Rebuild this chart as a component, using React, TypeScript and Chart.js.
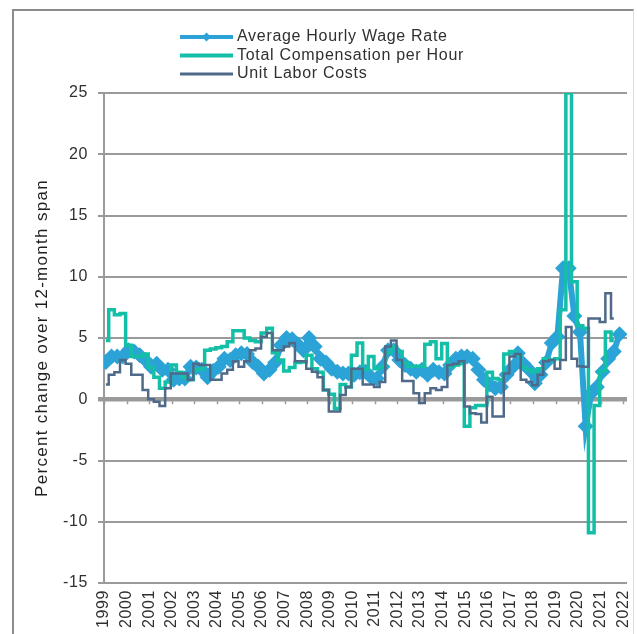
import React, { useEffect, useRef } from 'react';
import { Chart, registerables } from 'chart.js';

Chart.register(...registerables);

// ---- data (quarterly, starting 1999 Q1) ----
const YEAR_LABELS = ['1999','2000','2001','2002','2003','2004','2005','2006','2007','2008','2009','2010','2011','2012','2013','2014','2015','2016','2017','2018','2019','2020','2021','2022'];
const Y_TICKS = [-15, -10, -5, 0, 5, 10, 15, 20, 25];

const WAGE = [
  3.05, 3.5, 3.5, 3.5, 4.0, 3.9, 3.6, 3.2,
  2.65, 2.9, 2.4, 2.4, 1.6, 1.7, 1.7, 2.65,
  2.6, 2.4, 1.8, 2.3, 2.65, 3.3, 3.2, 3.6,
  3.75, 3.7, 3.05, 2.65, 2.1, 2.4, 3.0, 4.4,
  5.0, 4.9, 4.5, 4.0, 5.0, 4.3, 3.3, 3.0,
  2.5, 2.25, 2.1, 2.1, 2.0, 2.2, 2.25, 1.8,
  1.7, 2.65, 4.0, 4.0, 3.2, 2.8, 2.5, 2.25,
  2.4, 2.0, 2.4, 2.2, 2.1, 2.8, 3.3, 3.5,
  3.5, 3.3, 2.4, 1.6, 1.2, 0.9, 1.0, 2.0,
  2.6, 3.75, 2.9, 2.4, 1.3, 2.0, 3.0, 4.6,
  5.1, 10.7, 10.7, 6.8, 5.5, -2.2, 0.5, 1.0,
  2.25, 3.3, 3.9, 5.3,
];

const COMP = [
  4.8, 7.3, 6.9, 7.0, 4.4, 3.5, 3.5, 3.7,
  2.6, 1.8, 0.9, 1.4, 2.8, 2.2, 1.8, 1.6,
  2.4, 2.5, 4.0, 4.1, 4.2, 4.3, 4.7, 5.6,
  5.6, 5.0, 4.8, 4.7, 5.4, 5.8, 3.8, 3.2,
  2.3, 2.6, 3.0, 3.05, 3.6, 2.5, 2.2, 0.75,
  0.4, -0.75, 1.2, 1.0, 3.6, 4.6, 2.4, 3.5,
  2.5, 2.65, 3.8, 4.3, 3.9, 3.0, 2.7, 2.7,
  2.7, 4.5, 4.7, 3.3, 4.55, 2.65, 2.8, 2.9,
  -2.2, -0.7, -0.5, -0.5, 2.2, 1.7, 1.6, 3.7,
  3.9, 3.6, 2.6, 2.4, 2.25, 2.5, 3.3, 3.2,
  3.3, 7.3, 25, 9.6, 6.0, 5.8, -10.9, -0.5,
  2.3, 5.5, 4.8,
];

const ULC = [
  1.2, 2.0, 2.2, 3.2, 2.9, 2.0, 2.0, 0.75,
  0.0, -0.2, -0.55, 0.9, 2.1, 2.1, 2.1, 1.6,
  2.9, 2.8, 2.8, 1.6, 1.6, 2.1, 2.4, 3.1,
  2.65, 3.1, 4.0, 4.15, 5.1, 5.4, 4.0, 4.0,
  4.3, 4.6, 3.1, 3.1, 2.5, 2.25, 1.8, 0.75,
  -1.0, -1.0, 0.35, 1.0, 2.5, 2.5, 1.2, 1.2,
  1.0, 1.4, 4.3, 4.8, 3.2, 1.5, 1.5, 0.5,
  -0.3, 0.5, 0.9, 0.75, 1.0, 2.8, 2.9, 3.1,
  -0.6, -1.15, -1.2, -1.9, 0.2, -1.4, -1.4, 2.1,
  3.5, 3.7, 1.6, 1.4, 1.15, 2.0, 3.1, 3.2,
  2.5, 3.2, 5.9, 3.3, 2.7, 2.65, 6.6, 6.6,
  6.3, 8.65, 6.6,
];

const SERIES_LABELS = ['Average Hourly Wage Rate', 'Total Compensation per Hour', 'Unit Labor Costs'];
const Y_TITLE = 'Percent change over 12-month span';

// ---- style ----
const BLUE = '#2ca3d7';
const TEAL = '#14bfa8';
const SLATE = '#4f6a88';
const GRID = '#9a9a9a';
const TEXT = '#303030';
const FONT = '"Liberation Sans", Arial, sans-serif';
const CANVAS_W = 637;
const CANVAS_H = 690;
const AREA_LEFT = 104;
const AREA_TOP = 93;
const AREA_BOTTOM = 583;
const AREA_RIGHT = 627;
const LAST_MONTH = 278;

// quarterly values placed at the middle month of each quarter
const toPoints = (arr: number[]) => arr.map((v, i) => ({ x: i * 3 + 1, y: v }));

const overlayPlugin = {
  id: 'overlay',
  beforeDraw(chart: any) {
    chart.ctx.letterSpacing = '0.6px';
  },
  beforeDatasetsDraw(chart: any) {
    const { ctx, scales } = chart;
    const y0 = scales.y.getPixelForValue(0);
    ctx.save();
    ctx.strokeStyle = GRID;
    ctx.lineWidth = 1.5;
    YEAR_LABELS.forEach((_, i) => {
      const x = Math.round(scales.x.getPixelForValue(i * 12)) + 0.5;
      ctx.beginPath();
      ctx.moveTo(x, y0 + 2);
      ctx.lineTo(x, y0 + 5);
      ctx.stroke();
    });
    ctx.restore();
  },
  afterDraw(chart: any) {
    const ctx = chart.ctx;
    // y axis title
    ctx.save();
    ctx.translate(42, (AREA_TOP + AREA_BOTTOM) / 2);
    ctx.rotate(-Math.PI / 2);
    ctx.font = `17px ${FONT}`;
    ctx.letterSpacing = '1.3px';
    ctx.fillStyle = '#1e1e1e';
    ctx.textAlign = 'center';
    ctx.textBaseline = 'middle';
    ctx.fillText(Y_TITLE, 0, 0);
    ctx.restore();

    // legend (one item per row)
    const widths = [4, 4, 3];
    chart.data.datasets.forEach((ds: any, i: number) => {
      const y = 37 + i * 18.5;
      ctx.save();
      ctx.strokeStyle = ds.borderColor;
      ctx.lineWidth = widths[i];
      ctx.beginPath();
      ctx.moveTo(180, y);
      ctx.lineTo(233, y);
      ctx.stroke();
      if (i === 0) {
        ctx.fillStyle = ds.borderColor;
        ctx.beginPath();
        ctx.moveTo(206.5, y - 4.5);
        ctx.lineTo(211, y);
        ctx.lineTo(206.5, y + 4.5);
        ctx.lineTo(202, y);
        ctx.closePath();
        ctx.fill();
      }
      ctx.font = `16px ${FONT}`;
      ctx.letterSpacing = '0.7px';
      ctx.fillStyle = TEXT;
      ctx.textAlign = 'left';
      ctx.textBaseline = 'middle';
      ctx.fillText(ds.label, 237, y);
      ctx.restore();
    });
  },
};

export default function App() {
  const canvasRef = useRef<HTMLCanvasElement | null>(null);

  useEffect(() => {
    const canvas = canvasRef.current;
    if (!canvas) return;
    const chart = new Chart(canvas, {
      type: 'line',
      data: {
        datasets: [
          {
            label: SERIES_LABELS[0],
            data: toPoints(WAGE),
            borderColor: BLUE,
            backgroundColor: BLUE,
            borderWidth: 6,
            pointStyle: 'rectRot',
            pointRadius: 8,
            pointBorderWidth: 0,
            pointBackgroundColor: BLUE,
            tension: 0,
            order: 3,
          },
          {
            label: SERIES_LABELS[1],
            data: toPoints(COMP),
            borderColor: TEAL,
            backgroundColor: TEAL,
            borderWidth: 3.5,
            pointRadius: 0,
            stepped: 'middle',
            order: 2,
          },
          {
            label: SERIES_LABELS[2],
            data: toPoints(ULC),
            borderColor: SLATE,
            backgroundColor: SLATE,
            borderWidth: 2.5,
            pointRadius: 0,
            stepped: 'middle',
            order: 1,
          },
        ] as any,
      },
      options: {
        animation: false,
        responsive: false,
        maintainAspectRatio: false,
        events: [],
        layout: { padding: { top: AREA_TOP, right: CANVAS_W - AREA_RIGHT, left: 0, bottom: 0 } },
        plugins: {
          legend: { display: false },
          tooltip: { enabled: false },
          title: { display: false },
        },
        scales: {
          x: {
            type: 'linear',
            min: 0,
            max: LAST_MONTH,
            grid: { display: false, drawTicks: false },
            border: { display: false },
            afterBuildTicks: (scale: any) => {
              scale.ticks = YEAR_LABELS.map((_, i) => ({ value: i * 12 }));
            },
            afterFit: (scale: any) => {
              scale.height = CANVAS_H - AREA_BOTTOM;
              scale.paddingLeft = 0;
              scale.paddingRight = 0;
            },
            ticks: {
              autoSkip: false,
              maxRotation: 90,
              minRotation: 90,
              padding: 7,
              color: TEXT,
              font: { family: FONT, size: 16 },
              callback: (_v: any, i: number) => YEAR_LABELS[i],
            },
          },
          y: {
            type: 'linear',
            min: -15,
            max: 25,
            afterBuildTicks: (scale: any) => {
              scale.ticks = Y_TICKS.map((v) => ({ value: v }));
            },
            afterFit: (scale: any) => {
              scale.width = AREA_LEFT;
            },
            grid: {
              color: GRID,
              lineWidth: (ctx: any) => (ctx.tick && ctx.tick.value === 0 ? 4.5 : 2),
              tickLength: 6,
              drawTicks: true,
            },
            border: { display: true, color: GRID, width: 2 },
            ticks: {
              padding: 10,
              color: TEXT,
              font: { family: FONT, size: 16 },
              callback: (v: any) => String(v),
            },
          },
        },
      } as any,
      plugins: [overlayPlugin],
    });
    return () => chart.destroy();
  }, []);

  return (
    <div
      style={{
        position: 'fixed',
        left: 0,
        top: 0,
        width: CANVAS_W,
        height: 634,
        overflow: 'hidden',
        background: '#ffffff',
      }}
    >
      <div
        style={{
          position: 'absolute',
          left: 12,
          top: 9,
          width: 622,
          height: 700,
          borderLeft: '2px solid #8c8c8c',
          borderTop: '2px solid #8c8c8c',
          borderRight: '1px solid #dddddd',
          boxSizing: 'border-box',
        }}
      />
      <canvas
        ref={canvasRef}
        width={CANVAS_W}
        height={CANVAS_H}
        style={{ position: 'absolute', left: 0, top: 0, display: 'block', width: CANVAS_W, height: CANVAS_H }}
      />
    </div>
  );
}
